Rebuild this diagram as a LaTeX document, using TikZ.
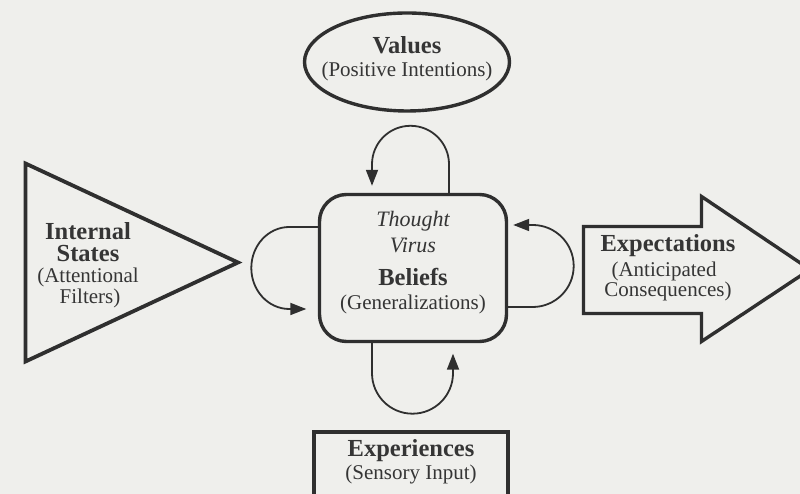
\documentclass[tikz,border=0pt]{standalone}
\usepackage{fontspec}
\setmainfont{Liberation Serif}
\usetikzlibrary{arrows.meta,shapes.geometric}
\definecolor{bg}{HTML}{EFEFEC}
\definecolor{ink}{HTML}{2F2F2F}
\definecolor{txt}{HTML}{353535}
\begin{document}
\begin{tikzpicture}[x=1pt,y=1pt,
  shapeline/.style={draw=ink,line width=3.4pt,line join=miter},
  loopline/.style={draw=ink,line width=1.8pt,-{Triangle[length=16pt,width=12pt]}},
  title/.style={font=\fontsize{24.5}{27}\selectfont\bfseries, text=txt, inner sep=0pt},
  sub/.style={font=\fontsize{21}{23}\selectfont, text=txt, inner sep=0pt},
  ital/.style={font=\fontsize{22}{24}\selectfont\itshape, text=txt, inner sep=0pt}]
\useasboundingbox (0,0) rectangle (800,494);
\fill[bg] (0,0) rectangle (800,494);
\clip (0,0) rectangle (800,494);

% shapes
\node[shapeline, ellipse, minimum width=205pt, minimum height=98pt, inner sep=0pt] (values) at (407,432) {};
\node[shapeline, rounded corners=27pt, minimum width=187pt, minimum height=147pt, inner sep=0pt] (belief) at (413,226) {};
\node[shapeline, line width=4pt, minimum width=193.5pt, minimum height=65pt, inner sep=0pt] (exper) at (410.75,29.5) {};
\coordinate (tA) at (25.5,330.5);
\coordinate (tB) at (238,231.5);
\coordinate (tC) at (25.5,132.5);
\draw[shapeline, line width=3.8pt] (tA) -- (tB) -- (tC) -- cycle;
\coordinate (a1) at (583.5,267.5);
\coordinate (a2) at (701.5,267.5);
\coordinate (a3) at (701.5,297.5);
\coordinate (a4) at (810,224.5);
\coordinate (a5) at (701.5,152.5);
\coordinate (a6) at (701.5,180.5);
\coordinate (a7) at (583.5,180.5);
\draw[shapeline] (a1) -- (a2) -- (a3) -- (a4) -- (a5) -- (a6) -- (a7) -- cycle;

% texts
\node[title] (valT) at (407,449) {Values};
\node[sub] (valS) at (407,423) {(Positive Intentions)};
\node[ital] (thT) at (413,273) {Thought};
\node[ital] (thV) at (413,249) {Virus};
\node[title] (belT) at (413,217) {Beliefs};
\node[sub] (belS) at (413,190) {(Generalizations)};
\node[title] (intT1) at (88,263) {Internal};
\node[title] (intT2) at (88,240) {States};
\node[sub] (intS1) at (88,217) {(Attentional};
\node[sub] (intS2) at (90,196) {Filters)};
\node[title] (expT) at (668,248) {Expectations};
\node[sub] (expS1) at (664,223) {(Anticipated};
\node[sub] (expS2) at (668,203) {Consequences)};
\node[title] (exT) at (411,43) {Experiences};
\node[sub] (exS) at (411,20) {(Sensory Input)};

% loops
\draw[loopline] ([xshift=36pt]belief.north) -- ++(0,28.5)
  arc[start angle=0,end angle=180,radius=38.5]
  -- ([xshift=-41pt,yshift=7pt]belief.north);
\draw[loopline] ([yshift=-39pt]belief.east) -- ++(24.5,0)
  arc[start angle=-90,end angle=90,radius=41]
  -- ([xshift=5pt,yshift=43pt]belief.east);
\draw[loopline] ([xshift=-41pt]belief.south) -- ++(0,-30)
  arc[start angle=180,end angle=360,radius=40.5]
  -- ([xshift=40pt,yshift=-10.5pt]belief.south);
\draw[loopline] ([yshift=41pt]belief.west) -- ++(-28.5,0)
  arc[start angle=90,end angle=270,x radius=38,y radius=41]
  -- ([xshift=-11.5pt,yshift=-41pt]belief.west);
\end{tikzpicture}
\end{document}
